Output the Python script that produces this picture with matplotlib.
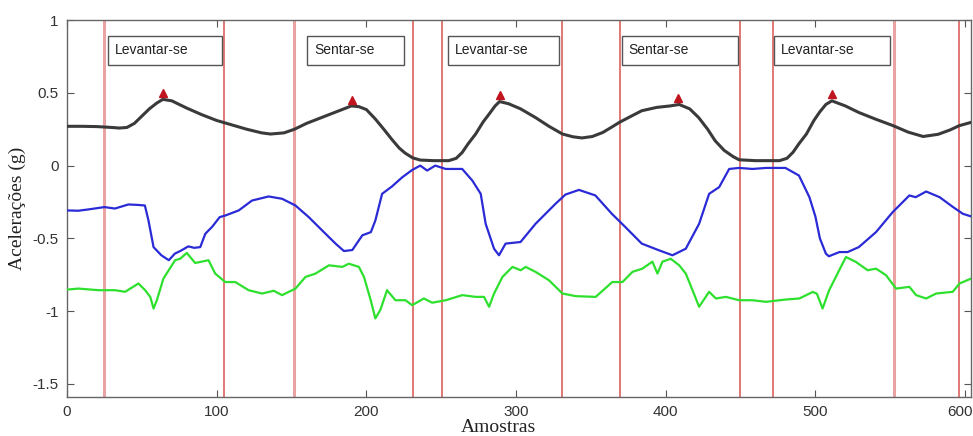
import matplotlib
matplotlib.use("Agg")
import matplotlib.pyplot as plt
from matplotlib.patches import Rectangle
from matplotlib.transforms import ScaledTranslation

plt.rcParams['axes.unicode_minus'] = False

# ---------------- data ----------------
black_x = [0, 10, 20, 30, 35, 40, 45, 50, 55, 60, 64, 70, 80, 90, 100, 110, 120, 130, 136, 145,
           152, 160, 170, 180, 190, 195, 200, 206, 212, 217, 222, 226, 231, 236, 245, 255, 260,
           264, 268, 273, 278, 282, 286, 289, 295, 303, 313, 322, 331, 338, 344, 351, 358, 364,
           369, 377, 384, 394, 403, 409, 416, 422, 428, 433, 439, 445, 449, 460, 476, 481, 485,
           489, 494, 499, 503, 507, 511, 520, 529, 540, 552, 562, 572, 582, 590, 596, 604]
black_y = [0.27, 0.27, 0.268, 0.262, 0.258, 0.262, 0.29, 0.34, 0.39, 0.43, 0.455, 0.445, 0.395,
           0.35, 0.31, 0.28, 0.25, 0.225, 0.217, 0.225, 0.25, 0.29, 0.33, 0.37, 0.41, 0.405,
           0.385, 0.32, 0.245, 0.18, 0.12, 0.085, 0.053, 0.038, 0.034, 0.034, 0.05, 0.09, 0.15,
           0.217, 0.3, 0.354, 0.41, 0.44, 0.425, 0.39, 0.33, 0.27, 0.217, 0.198, 0.19, 0.2,
           0.228, 0.265, 0.297, 0.34, 0.377, 0.4, 0.41, 0.42, 0.39, 0.33, 0.25, 0.171, 0.105,
           0.062, 0.04, 0.034, 0.034, 0.05, 0.091, 0.15, 0.217, 0.31, 0.37, 0.42, 0.445, 0.41,
           0.365, 0.32, 0.274, 0.23, 0.2, 0.215, 0.245, 0.274, 0.297]

blue_x = [0, 7.6, 15, 25, 32, 41, 47, 52, 54.4, 57.8, 63, 68, 72, 76, 81, 85, 89, 92.4, 97, 102,
          106, 114.7, 123.6, 134.7, 143.7, 152.6, 161.5, 170.4, 179.4, 185, 190.6, 197.3, 203,
          206, 210.5, 217, 224, 230.6, 236, 240.6, 246, 253, 264, 270.8, 276.4, 279.7, 285.3,
          288.6, 293, 303, 313, 326.4, 333, 342, 353, 364, 373, 384, 395.5, 404.5, 413.4,
          422.3, 429, 435.7, 442.4, 449, 458, 467, 480, 489, 496, 500, 503, 507, 509, 516,
          521.5, 529, 540.5, 551.6, 562.8, 567, 574, 583, 592, 598.5, 604]
blue_y = [-0.308, -0.31, -0.3, -0.285, -0.295, -0.267, -0.27, -0.274, -0.377, -0.56, -0.616,
          -0.65, -0.605, -0.585, -0.555, -0.565, -0.56, -0.468, -0.42, -0.354, -0.342, -0.308,
          -0.24, -0.212, -0.228, -0.274, -0.354, -0.445, -0.536, -0.587, -0.58, -0.479, -0.457,
          -0.377, -0.194, -0.144, -0.08, -0.03, 0.0, -0.034, 0.0, -0.023, -0.023, -0.103,
          -0.194, -0.4, -0.571, -0.616, -0.536, -0.525, -0.4, -0.262, -0.199, -0.167, -0.205,
          -0.331, -0.422, -0.536, -0.582, -0.616, -0.571, -0.4, -0.194, -0.148, -0.023,
          -0.016, -0.023, -0.016, -0.016, -0.068, -0.217, -0.35, -0.5, -0.605, -0.623,
          -0.594, -0.594, -0.56, -0.457, -0.32, -0.205, -0.217, -0.178, -0.217, -0.285,
          -0.331, -0.349]

green_x = [0, 7.6, 21, 32, 38.8, 47.7, 52.2, 55.6, 57.8, 60, 64.4, 72.2, 75.6, 80, 85.6, 90,
           94.5, 99, 105.7, 112.4, 121.3, 130.3, 138.1, 143.7, 152.6, 159.3, 166, 175, 183.9,
           188.3, 195, 198.4, 202.9, 206, 209.4, 213.8, 219.4, 226.1, 230.6, 238.4, 244, 253,
           264.1, 273, 278.6, 282, 285.3, 290.9, 297.6, 303.1, 306.4, 313, 322, 331, 339.9,
           353.2, 364.3, 371.1, 377.8, 384.4, 391.1, 394.5, 397.8, 403.3, 409, 413.4, 417.9,
           422.3, 429, 433.5, 440.2, 449.1, 458, 467, 480.4, 489.3, 498.2, 501, 504.8, 509.2,
           515.9, 520.4, 527.1, 534.9, 540.5, 547.2, 553.9, 562.8, 567.3, 574, 580.7, 591.8,
           596.3, 604.1]
green_y = [-0.852, -0.845, -0.856, -0.856, -0.867, -0.81, -0.856, -0.902, -0.982, -0.925,
           -0.776, -0.65, -0.64, -0.6, -0.669, -0.66, -0.65, -0.742, -0.8, -0.8, -0.856,
           -0.879, -0.86, -0.89, -0.845, -0.765, -0.742, -0.685, -0.696, -0.674, -0.696,
           -0.765, -0.925, -1.05, -0.99, -0.856, -0.925, -0.925, -0.959, -0.913, -0.942,
           -0.925, -0.89, -0.902, -0.902, -0.97, -0.879, -0.765, -0.696, -0.719, -0.696,
           -0.73, -0.788, -0.879, -0.897, -0.902, -0.8, -0.8, -0.73, -0.708, -0.66, -0.742,
           -0.66, -0.64, -0.685, -0.742, -0.856, -0.97, -0.867, -0.913, -0.902, -0.925,
           -0.925, -0.936, -0.92, -0.913, -0.868, -0.88, -0.982, -0.856, -0.719, -0.628,
           -0.662, -0.719, -0.708, -0.753, -0.845, -0.833, -0.89, -0.913, -0.879, -0.867,
           -0.81, -0.776]

peak_x = [64.2, 190.6, 289, 408, 511]
peak_y = [0.50, 0.452, 0.486, 0.466, 0.493]

event_x = [24.7, 105, 151.8, 231.4, 250.8, 330.4, 369.2, 449.5, 471.6, 552.5, 596]
event_light = [True, False, True, False, False, False, False, False, False, True, False]

labels = ["Levantar-se", "Sentar-se", "Levantar-se", "Sentar-se", "Levantar-se"]
label_left = [27.4, 160.5, 254.8, 370.6, 472.2]
label_right = [103.7, 225.4, 329.0, 448.2, 549.8]

xticks = [0, 100, 200, 300, 400, 500, 600]
yticks = [1, 0.5, 0, -0.5, -1, -1.5]
ytick_labels = ["1", "0.5", "0", "-0.5", "-1", "-1.5"]

# ---------------- figure ----------------
fig = plt.figure(figsize=(9.73, 4.36), dpi=100)
ax = fig.add_axes([0.0689, 0.0894, 0.9291, 0.8646])

for xv, light in zip(event_x, event_light):
    if light:
        ax.axvline(xv, color="#e9a3a3", lw=2.2, zorder=1)
    else:
        ax.axvline(xv, color="#d9534f", lw=1.1, zorder=1)

ax.plot(black_x, black_y, color="#3a3a3a", lw=2.2, zorder=3)
ax.plot(blue_x, blue_y, color="#2a2ad6", lw=1.6, zorder=3)
ax.plot(green_x, green_y, color="#2ee02e", lw=1.6, zorder=3)
ax.plot(peak_x, peak_y, linestyle="none", marker="^", color="#c0141e", markersize=6, zorder=4)

box_top, box_bottom = 0.89, 0.692
for lab, l, r in zip(labels, label_left, label_right):
    ax.add_patch(Rectangle((l, box_bottom), r - l, box_top - box_bottom,
                           facecolor="white", edgecolor="#555555", lw=1.0, zorder=5))
    ax.text(l + 4.5, (box_top + box_bottom) / 2, lab, ha="left", va="center",
            fontsize=10, family="Liberation Sans", color="#222222", zorder=6)

ax.set_xlim(0, 604)
ax.set_ylim(-1.59, 1.0)
ax.set_xticks(xticks)
ax.set_xticklabels([str(t) for t in xticks])
ax.set_yticks(yticks)
ax.set_yticklabels(ytick_labels)
ax.tick_params(direction="in", top=True, right=True, length=5, width=0.8, color="#555555",
               labelsize=11, labelcolor="#333333", pad=6)
for lab in ax.get_xticklabels() + ax.get_yticklabels():
    lab.set_family("Liberation Sans")
# keep the last x tick label inside the canvas
last = ax.get_xticklabels()[-1]
last.set_transform(last.get_transform() + ScaledTranslation(-5 / 100, 0, fig.dpi_scale_trans))
for sp in ax.spines.values():
    sp.set_color("#666666")
    sp.set_linewidth(1.0)

ax.set_xlabel("Amostras", fontsize=14, family="Liberation Serif", color="#222222")
ax.set_ylabel("Acelerações (g)", fontsize=14, family="Liberation Serif", color="#222222")
ax.xaxis.set_label_coords(0.477, -0.058)
ax.yaxis.set_label_coords(-0.045, 0.5)

fig.savefig("out.png", dpi=100)
